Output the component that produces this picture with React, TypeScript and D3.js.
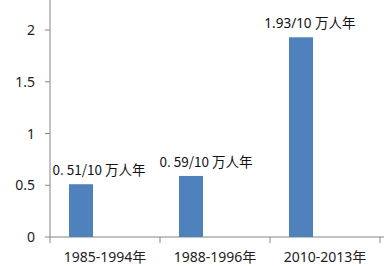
import React from "react";
import * as d3 from "d3";

const categories = ["1985-1994年", "1988-1996年", "2010-2013年"];
const values = [0.51, 0.59, 1.93];
const valueLabels = ["0. 51/10 万人年", "0. 59/10 万人年", "1.93/10 万人年"];
const series = ["s1", "s2", "s3"];
const yTicks = [0, 0.5, 1, 1.5, 2];
const yTickLabels = ["0", "0.5", "1", "1.5", "2"];

export default function App() {
  const W = 384, H = 266;
  const left = 50, right = 380, bottom = 237, top = -1;
  const x = d3.scaleBand().domain(categories).range([left, right]).padding(0);
  const sub = d3.scaleBand().domain(series).range([0, x.bandwidth()]).paddingInner(0).paddingOuter(0.79);
  const y = d3.scaleLinear().domain([0, 2.3]).range([bottom, top]);
  const font = "'Noto Sans', 'Noto Sans CJK SC', sans-serif";
  const labelFont = "'Noto Sans CJK SC', 'Noto Sans', sans-serif";
  const labelDx = [18, 15, 9];
  const xTickPos = [...categories.map((c) => x(c)!), right];
  return (
    <svg width={W} height={H} style={{ position: "absolute", left: 0, top: 0, background: "#fff" }}>
      <rect x={0} y={0} width={W} height={H} fill="#fff" />
      {/* y axis */}
      <line x1={left} x2={left} y1={0} y2={bottom} stroke="#868686" strokeWidth={1} />
      {yTicks.map((t, i) => (
        <g key={t}>
          <line x1={left - 5} x2={left} y1={y(t)} y2={y(t)} stroke="#868686" />
          <text x={left - 15} y={y(t)} dy="0.36em" textAnchor="end" fontSize={14} fontFamily={font} fill="#222">
            {yTickLabels[i]}
          </text>
        </g>
      ))}
      {/* x axis */}
      <line x1={left} x2={right + 4} y1={bottom} y2={bottom} stroke="#868686" />
      {xTickPos.map((p, i) => (
        <line key={i} x1={p} x2={p} y1={bottom} y2={bottom + 6} stroke="#868686" />
      ))}
      {categories.map((c) => (
        <text key={c} x={x(c)! + x.bandwidth() / 2} y={262} textAnchor="middle" fontSize={14} fontFamily={font} fill="#222">
          {c}
        </text>
      ))}
      {/* bars */}
      {categories.map((c, i) => (
        <rect
          key={c}
          x={x(c)! + sub("s1")!}
          y={y(values[i])}
          width={sub.bandwidth()}
          height={bottom - y(values[i])}
          fill="#4F81BD"
        />
      ))}
      {categories.map((c, i) => (
        <text
          key={"l" + c}
          x={x(c)! + sub("s1")! + sub.bandwidth() / 2 + labelDx[i]}
          y={y(values[i]) - 9}
          textAnchor="middle"
          fontSize={i === 2 ? 13.5 : 13.5}
          fontFamily={i === 2 ? font : labelFont}
          fill="#111"
        >
          {valueLabels[i]}
        </text>
      ))}
    </svg>
  );
}
